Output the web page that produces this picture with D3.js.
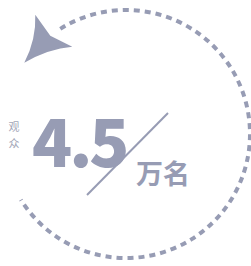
<!DOCTYPE html>
<html>
<head>
<meta charset="utf-8">
<script src="https://cdn.jsdelivr.net/npm/d3@7"></script>
<style>
  html, body { margin: 0; padding: 0; background: #fff; }
</style>
</head>
<body>
<svg id="chart"></svg>
<script>
// values
const label = ["观", "众"];
const value = ["4.5"];
const unit = ["万名"];
const arcSpan = [-32, 238];   // degrees, 0 = top, clockwise

const width = 251, height = 266;
const cx = 126, cy = 134, r = 124;
const color = "#979cb4";

const svg = d3.select("#chart")
  .attr("width", width)
  .attr("height", height)
  .attr("viewBox", [0, 0, width, height]);

const angle = d3.scaleLinear().domain([0, 360]).range([0, 2 * Math.PI]);

// dashed ring
const p = d3.path();
p.arc(cx, cy, r, angle(arcSpan[0] - 90), angle(arcSpan[1] - 90));
svg.append("path")
  .attr("d", p.toString())
  .attr("fill", "none")
  .attr("stroke", color)
  .attr("stroke-width", 4)
  .attr("stroke-dasharray", "6,5");

// arrow head at the start of the ring
const a0 = angle(arcSpan[0] - 90);
const hx = cx + r * Math.cos(a0), hy = cy + r * Math.sin(a0);
svg.append("path")
  .attr("transform", `translate(${hx - 2},${hy - 1})`)
  .attr("d", "M-23,-13 L-8,8 L14,19 Q-10,21 -34,35 Q-22,12 -23,-13 Z")
  .attr("fill", color);

// small vertical label
svg.append("g").selectAll("text")
  .data(label)
  .join("text")
  .attr("x", 14)
  .attr("y", (d, i) => 131 + i * 17)
  .attr("text-anchor", "middle")
  .attr("font-family", "Noto Sans CJK SC")
  .attr("font-size", 11)
  .attr("fill", "#a3a7b8")
  .text(d => d);

// big number
svg.append("text")
  .attr("x", 32)
  .attr("y", 167)
  .attr("font-family", "Noto Sans CJK SC")
  .attr("font-weight", 900)
  .attr("font-size", 66)
  .attr("letter-spacing", -3)
  .attr("fill", color)
  .text(value[0]);

// slash
svg.append("line")
  .attr("x1", 168).attr("y1", 113)
  .attr("x2", 87).attr("y2", 195)
  .attr("stroke", color)
  .attr("stroke-width", 2);

// unit
svg.append("text")
  .attr("x", 136)
  .attr("y", 184)
  .attr("font-family", "Noto Sans CJK SC")
  .attr("font-weight", 700)
  .attr("font-size", 27)
  .attr("fill", color)
  .text(unit[0]);
</script>
</body>
</html>
